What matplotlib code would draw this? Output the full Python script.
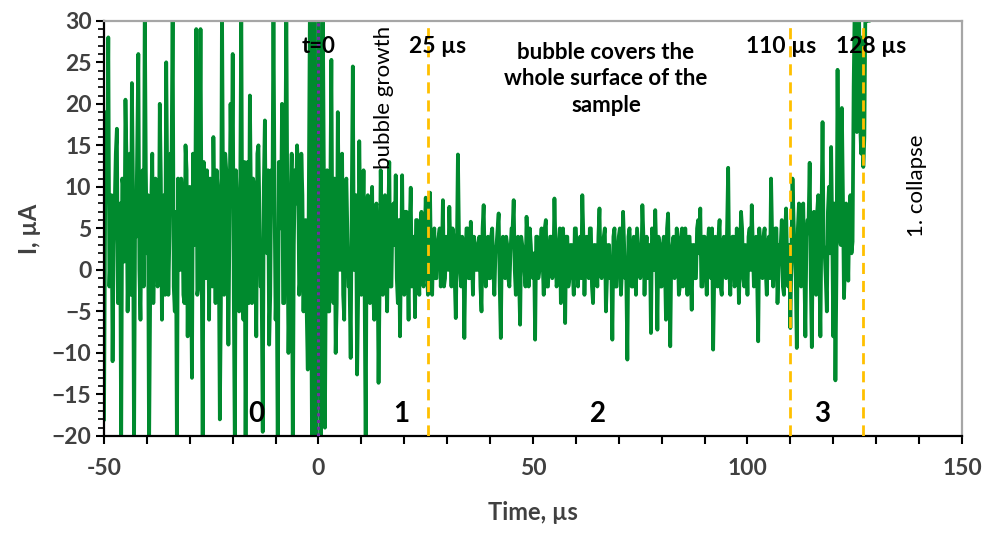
import numpy as np
import matplotlib
matplotlib.use("Agg")
import matplotlib.pyplot as plt
from matplotlib.ticker import MultipleLocator, FuncFormatter

# ---- data (current, µA) ----
# "peak" samples every 0.5 µs from t = -50 µs, and "core" samples read
# half-way between them (t = -49.75, -49.25, ...), both.
t_start = -50.0
t_step = 0.25

peaks0 = [  # -50 .. -0.5 µs
    -18, 19, 28, 2, -11, 8, 17, -3, -22, 10,
    20.5, -5, 14, 22.5, -22, 4, 26, -6, 12, 32,
    2, -22, 8, -4, 11, -2, 20, -6, 9, 25,
    -3, 14, 32, -5, -22, 6, 11, -3, 15, -8,
    10, -13, 3, 29, -2, 29, -22, 6, 12, -6,
    8, 16, -4, 10, -18, 32, -3, 12, -9, 20,
    26, -22, 8, -5, 32, -6, -22, 13, 21, -4,
    10, -8, 15, -2, -19.5, 18, 2, -9, 12, 32,
    -6, -22, 11, 20, -4, 32, -10, 8, -22, 12,
    15, -3, 14, -5, 6, -12, 32, -22, 32, -22,
]
core0 = [
    6, 12, -2, 9, 3, 14, -4, 8, 11, 1,
    13, 4, -3, 10, 6, 15, 0, 7, -2, 12,
    9, -4, 14, 3, 8, -1, 11, 5, -3, 10,
    4, 13, -2, 7, 11, 0, 9, -4, 12, 5,
    2, 14, 6, -3, 10, 4, 13, -1, 8, 11,
    -2, 7, 12, 3, -4, 9, 14, 1, 6, 10,
    -3, 12, 5, 9, -1, 13, 4, -4, 8, 11,
    2, 14, 6, -2, 10, 3, 12, -3, 7, 9,
    0, 13, 5, -4, 11, 6, -2, 14, 3, 8,
    12, -1, 9, 4, -5, 11, 2, 8, -6, 4,
]
peaks1 = [  # 0 .. 24.5 µs (bubble growth)
    32, -22, 32, -19, 12, -5, 25.3, -4, -10, 19,
    0, 14, -6, 11, -2, -10.6, 24.5, 2, -12.6, 15.5,
    -3, 12, -22, 9, -4, 10, -6, 8, -13.6, 12,
    -3, 9, -5, 13, -2, 8, 11.4, -4, -8, 11.4,
    -3, 7, -6, 9.9, -1, -5.7, 6, -3, 7, -2,
]
core1 = [
    10, -6, 12, 3, -5, 9, 1, 11, -4, 7,
    2, -3, 10, 4, -2, 8, 0, 9, -3, 6,
    3, -2, 8, 1, 6, -3, 7, 2, -2, 5,
    8, 0, 6, -2, 7, 3, -1, 6, 2, -2,
    7, 1, 5, -2, 4, 6, 0, 5, -1, 4,
]
peaks2 = [  # 25 .. 109.5 µs (bubble covers the surface)
    8.7, -3, 9.3, -3, 5, -1, 4, -2, 8.4, -1,
    3, 7.6, -2, 4, -5.8, 13.9, 0, 4, -8.2, 5,
    -1, 5.8, -3, 3, 0, 4, -5, 7.8, -2, 4,
    -1, 5, -3, 3, 6.8, -8.2, 4, -1, 3, -2,
    5, 8.4, -3, 4, -6.6, 3, 0, 6.4, -2, 3,
    -1, -8.4, 4, 0, 5, -3, 6, -2, 4, -1,
    8.6, -2, 3, -4, 5, -6.4, 4, -1, 3, -3,
    5, -2, 4, 9, -3, 4, -1, 5, -4, 3,
    -2, 7.4, -1, 4, -5, 3, -1, -8.4, 5, -2,
    4, -3, 7, -1, -10.8, 5, -2, 4, -3, 3,
    -1, 7.8, -3, 4, 3, -7.6, 4, 7.2, -7.2, 3,
    -2, 4, -6, 6.8, -9.2, 3, -1, 5, -3, 4,
    -2, 5, -3, 4, -4.8, 3, -1, 6, 7.4, -2,
    4, -3, 5, -1, -9.6, 4, -2, 6, -3, 4,
    -1, 12.3, -3, 4, -2, 5, -4, 7, -1, 3,
    -3, 5, 7.8, -2, 4, -8.6, 3, -1, 5, -3,
    4, 11, -2, 5, -4, 3, 6, -3, 7.4, -2,
]
core2 = [
    2, 5, 0, 4, -1, 3, 5, 1, -2, 4,
    0, 3, 5, -1, 2, 4, -2, 3, 1, 5,
    -1, 2, 4, 0, 3, -2, 5, 1, 3, -1,
    4, 0, 2, 5, -2, 3, 1, 4, -1, 2,
    5, 0, 3, -1, 4, 2, -2, 3, 5, 0,
    2, 4, -1, 3, 1, 5, -2, 2, 4, 0,
    3, -1, 5, 1, 2, 4, -2, 3, 0, 5,
    1, 3, -1, 4, 2, 0, 5, -2, 3, 1,
    4, 0, 2, 5, -1, 3, 1, 4, -2, 2,
    5, 0, 3, -1, 4, 2, -2, 3, 5, 1,
    0, 4, 2, -1, 3, 5, 0, 2, 4, -2,
    3, 1, 5, -1, 2, 4, 0, 3, -2, 5,
    1, 2, 4, 0, 3, -1, 5, 2, -2, 4,
    1, 3, 0, 5, -1, 2, 4, -2, 3, 1,
    5, 0, 2, 4, -1, 3, 1, 5, -2, 2,
    4, 0, 3, 1, -1, 5, 2, 4, 0, 3,
    -1, 4, 2, 5, 0, 3, -2, 4, 1, 3,
]
peaks3 = [  # 110 .. 128 µs (bubble shrinking, collapse)
    -7, 11, 2, -9.4, 8, -2, 8, -8, 6, 12.9,
    -9.3, 7, -3, 9, -8, 17.8, 2, -5, 10, 14.8,
    -8, -13.3, 24.1, 4, 19.5, -3.4, 8, -1.3, 9,
    3.4, 32, 16.6, 32, 14, 12.4, 32, 32,
]
core3 = [
    2, 6, -1, 5, 1, 7, 0, 4, 6, -1,
    5, 2, 7, 0, 6, 3, -1, 7, 2, 5,
    8, 0, 6, 3, 9, 1, 5, 7, 2,
    22, 25, 20, 18, 28, 16, 30, 30,
]

peaks = peaks0 + peaks1 + peaks2 + peaks3
core = core0 + core1 + core2 + core3
current = np.column_stack([peaks, core]).ravel()

markers_t = [25.5, 110, 127]
marker_labels = ["25 µs", "110 µs", "128 µs"]
marker_label_x = [27.8, 107.8, 128.9]
region_names = ["0", "1", "2", "3"]
region_pos = [-14.5, 19.2, 65.1, 117.3]

time = t_start + t_step * np.arange(len(current))

plt.rcParams['font.family'] = ['Lato', 'DejaVu Sans']

fig = plt.figure(figsize=(9.84, 5.33), dpi=100)
ax = fig.add_axes([0.1057, 0.182, 0.8719, 0.779])

ax.plot(time, current, color='#008A2E', lw=2.7, zorder=2, solid_joinstyle='round')

ax.axvline(0, color='#7030A0', lw=2.2, ls=(0, (1, 1.2)), zorder=3)
for xv in markers_t:
    ax.axvline(xv, color='#FFC000', lw=2.0, ls=(0, (4, 2.5)), zorder=3)

ax.set_xlim(-50, 150)
ax.set_ylim(-20, 30)

ax.xaxis.set_major_locator(MultipleLocator(10))
ax.xaxis.set_major_formatter(FuncFormatter(lambda v, p: f"{v:.0f}" if abs(v % 50) < 1e-6 else ""))
ax.yaxis.set_major_locator(MultipleLocator(5))
ax.yaxis.set_minor_locator(MultipleLocator(1))

lab_color = '#404040'
ax.tick_params(axis='x', which='major', direction='out', length=6, width=1.5, colors='black',
               labelcolor=lab_color, labelsize=16.5, pad=10)
ax.tick_params(axis='y', which='major', direction='out', length=6, width=1.5, colors='black',
               labelcolor=lab_color, labelsize=16.5, pad=3)
ax.tick_params(axis='y', which='minor', direction='out', length=4, width=1.2, colors='black')
for lab in ax.get_xticklabels() + ax.get_yticklabels():
    lab.set_fontweight('bold')

for s in ['left', 'bottom']:
    ax.spines[s].set_color('black')
    ax.spines[s].set_linewidth(1.6)
for s in ['top', 'right']:
    ax.spines[s].set_color('#A6A6A6')
    ax.spines[s].set_linewidth(1.6)

ax.set_xlabel("Time, µs", fontsize=17, fontweight='bold', color=lab_color, labelpad=16)
ax.set_ylabel("I, µA", fontsize=17, fontweight='bold', color=lab_color, labelpad=8)

txt = dict(color='black', fontweight='bold', zorder=5)
ax.text(0, 26.9, "t=0", fontsize=16, ha='center', va='center', **txt)
for lab, xl in zip(marker_labels, marker_label_x):
    ax.text(xl, 26.9, lab, fontsize=16.5, ha='center', va='center', **txt)
ax.text(67, 23.0, "bubble covers the\nwhole surface of the\nsample", fontsize=16,
        ha='center', va='center', linespacing=1.3, **txt)
ax.text(15.2, 20.8, "bubble growth", fontsize=16, rotation=90, ha='center', va='center',
        color='black', zorder=5)
ax.text(139.5, 10.1, "1. collapse", fontsize=16, rotation=90, ha='center', va='center',
        color='black', zorder=5)
for name, xp in zip(region_names, region_pos):
    ax.text(xp, -17.3, name, fontsize=20, ha='center', va='center', **txt)

fig.savefig("out.png", dpi=100)
